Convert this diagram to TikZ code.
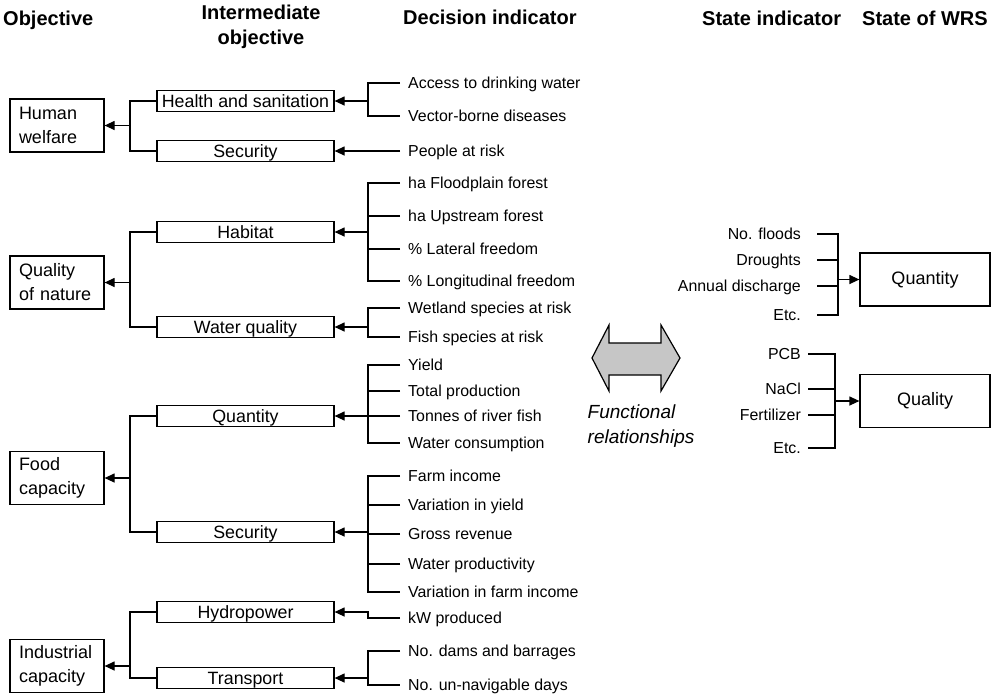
\documentclass[tikz,border=0pt]{standalone}
\usepackage{fontspec}
\setmainfont{Liberation Sans}
\usetikzlibrary{arrows.meta}

\begin{document}
\begin{tikzpicture}[x=1pt,y=-1pt]
      \tikzstyle{objbox} = [draw=black, line width=1.2pt, inner xsep=9pt, text width=76pt, minimum height=53pt, align=left, font=\fontsize{18}{24}\selectfont]
      \tikzstyle{midbox} = [draw=black, line width=1.2pt, inner sep=0pt, minimum width=177pt, minimum height=21pt, text height=14pt, text depth=2pt, font=\fontsize{17.8}{20}\selectfont]
      \tikzstyle{stbox} = [draw=black, line width=1.2pt, minimum width=130pt, minimum height=53pt, font=\fontsize{18}{20}\selectfont]
      \tikzstyle{ind} = [inner sep=0pt, text height=11.5pt, text depth=0pt, font=\fontsize{15.9}{19}\selectfont]
      \tikzstyle{head} = [inner sep=0pt, font=\bfseries\fontsize{20}{25}\selectfont]
      \tikzstyle{arr} = [-{Triangle[length=10pt,width=9pt]}, line width=1.2pt]
      \tikzstyle{tree} = [line width=1.2pt]
      \useasboundingbox (0,0) rectangle (992,694);

      % column heads
      \node[head, anchor=base west] (hobj) at (3,25) {Objective};
      \node[head, align=center] (hint) at (261,27) {Intermediate\\objective};
      \node[head, anchor=base west] (hdec) at (403,24) {Decision indicator};
      \node[head, anchor=base west] (hsta) at (702,25) {State indicator};
      \node[head, anchor=base west] (hwrs) at (862,25) {State of WRS};

      % objectives
      \node[objbox] (hw) at (57,125.5) {Human\\welfare};
      \node[objbox] (qn) at (57,282.5) {Quality\\of nature};
      \node[objbox] (fc) at (57,478) {Food\\capacity};
      \node[objbox] (ic) at (57,666) {Industrial\\capacity};

      % intermediate objectives
      \node[midbox] (hs) at (245.5,101) {Health and sanitation};
      \node[midbox] (sec) at (245.5,151) {Security};
      \node[midbox] (hab) at (245.5,232) {Habitat};
      \node[midbox] (wq) at (245.5,327) {Water quality};
      \node[midbox] (qty) at (245.5,416) {Quantity};
      \node[midbox] (fsec) at (245.5,532) {Security};
      \node[midbox] (hyd) at (245.5,612) {Hydropower};
      \node[midbox] (trn) at (245.5,678) {Transport};

      \coordinate (ox) at (130,0);
      \coordinate (dx) at (368,0);

      \draw[tree] (hs.west) -- (hs.west -| ox) -- (sec.west -| ox) -- (sec.west);
      \draw[arr] (hw.east -| ox) -- (hw.east);
      \draw[tree] (hab.west) -- (hab.west -| ox) -- (wq.west -| ox) -- (wq.west);
      \draw[arr] (qn.east -| ox) -- (qn.east);
      \draw[tree] (qty.west) -- (qty.west -| ox) -- (fsec.west -| ox) -- (fsec.west);
      \draw[arr] (fc.east -| ox) -- (fc.east);
      \draw[tree] (hyd.west) -- (hyd.west -| ox) -- (trn.west -| ox) -- (trn.west);
      \draw[arr] (ic.east -| ox) -- (ic.east);

      % decision indicators
      \node[ind, anchor=west] (access) at (408,83) {Access to drinking water};
      \node[ind, anchor=west] (vector) at (408,116) {Vector-borne diseases};
      \node[ind, anchor=west] (people) at (408,151) {People at risk};
      \node[ind, anchor=west] (flood) at (408,183) {ha Floodplain forest};
      \node[ind, anchor=west] (upstream) at (408,216) {ha Upstream forest};
      \node[ind, anchor=west] (lateral) at (408,249) {\% Lateral freedom};
      \node[ind, anchor=west] (longit) at (408,281) {\% Longitudinal freedom};
      \node[ind, anchor=west] (wetland) at (408,308) {Wetland species at risk};
      \node[ind, anchor=west] (fish) at (408,337) {Fish species at risk};
      \node[ind, anchor=west] (yield) at (408,365) {Yield};
      \node[ind, anchor=west] (totprod) at (408,391) {Total production};
      \node[ind, anchor=west] (tonnes) at (408,416) {Tonnes of river fish};
      \node[ind, anchor=west] (wcons) at (408,443) {Water consumption};
      \node[ind, anchor=west] (farm) at (408,476) {Farm income};
      \node[ind, anchor=west] (varyield) at (408,505) {Variation in yield};
      \node[ind, anchor=west] (gross) at (408,534) {Gross revenue};
      \node[ind, anchor=west] (wprod) at (408,564) {Water productivity};
      \node[ind, anchor=west] (varfarm) at (408,592) {Variation in farm income};
      \node[ind, anchor=west] (kw) at (408,618) {kW produced};
      \node[ind, anchor=west] (dams) at (408,651) {No. dams and barrages};
      \node[ind, anchor=west] (unnav) at (408,685) {No. un-navigable days};

      \draw[tree] ([xshift=-8pt]access.west) -- (access.west -| dx) -- (vector.west -| dx) -- ([xshift=-8pt]vector.west);
      \draw[arr] (hs.east -| dx) -- (hs.east);
      \draw[arr] ([xshift=-8pt]people.west) -- (sec.east);

      \draw[tree] ([xshift=-8pt]flood.west) -- (flood.west -| dx) -- (longit.west -| dx) -- ([xshift=-8pt]longit.west);
      \draw[tree] ([xshift=-8pt]upstream.west) -- (upstream.west -| dx);
      \draw[tree] ([xshift=-8pt]lateral.west) -- (lateral.west -| dx);
      \draw[arr] (hab.east -| dx) -- (hab.east);

      \draw[tree] ([xshift=-8pt]wetland.west) -- (wetland.west -| dx) -- (fish.west -| dx) -- ([xshift=-8pt]fish.west);
      \draw[arr] (wq.east -| dx) -- (wq.east);

      \draw[tree] ([xshift=-8pt]yield.west) -- (yield.west -| dx) -- (wcons.west -| dx) -- ([xshift=-8pt]wcons.west);
      \draw[tree] ([xshift=-8pt]totprod.west) -- (totprod.west -| dx);
      \draw[tree] ([xshift=-8pt]tonnes.west) -- (tonnes.west -| dx);
      \draw[arr] (qty.east -| dx) -- (qty.east);

      \draw[tree] ([xshift=-8pt]farm.west) -- (farm.west -| dx) -- (varfarm.west -| dx) -- ([xshift=-8pt]varfarm.west);
      \draw[tree] ([xshift=-8pt]varyield.west) -- (varyield.west -| dx);
      \draw[tree] ([xshift=-8pt]gross.west) -- (gross.west -| dx);
      \draw[tree] ([xshift=-8pt]wprod.west) -- (wprod.west -| dx);
      \draw[arr] (fsec.east -| dx) -- (fsec.east);

      \draw[arr] ([xshift=-8pt]kw.west) -- (kw.west -| dx) -- (hyd.east -| dx) -- (hyd.east);

      \draw[tree] ([xshift=-8pt]dams.west) -- (dams.west -| dx) -- (unnav.west -| dx) -- ([xshift=-8pt]unnav.west);
      \draw[arr] (trn.east -| dx) -- (trn.east);

      % functional relationships
      \draw[line width=1.2pt, fill=gray!45] (592,358) -- (609,325) -- (609,343) -- (661,343) -- (661,325) -- (680,358)
        -- (661,391) -- (661,375) -- (609,375) -- (609,391) -- cycle;
      \node[inner sep=0pt, align=left, font=\itshape\fontsize{19}{25}\selectfont] (func) at (641,426.5) {Functional\\relationships};

      % state indicators
      \node[ind, anchor=east] (floods) at (801,234) {No. floods};
      \node[ind, anchor=east] (droughts) at (801,260) {Droughts};
      \node[ind, anchor=east] (annual) at (801,286) {Annual discharge};
      \node[ind, anchor=east] (etca) at (801,315) {Etc.};
      \node[ind, anchor=east] (pcb) at (801,354) {PCB};
      \node[ind, anchor=east] (nacl) at (801,389) {NaCl};
      \node[ind, anchor=east] (fert) at (801,415) {Fertilizer};
      \node[ind, anchor=east] (etcb) at (801,448) {Etc.};

      % state of WRS
      \node[stbox] (wqn) at (925,279.5) {Quantity};
      \node[stbox] (wql) at (925,401) {Quality};

      \coordinate (sa) at (838,0);
      \coordinate (sb) at (835,0);

      \draw[tree] ([xshift=16pt]floods.east) -- (floods.east -| sa) -- (etca.east -| sa) -- ([xshift=16pt]etca.east);
      \draw[tree] ([xshift=16pt]droughts.east) -- (droughts.east -| sa);
      \draw[tree] ([xshift=16pt]annual.east) -- (annual.east -| sa);
      \draw[arr] (wqn.west -| sa) -- (wqn.west);

      \draw[tree] ([xshift=7pt]pcb.east) -- (pcb.east -| sb) -- (etcb.east -| sb) -- ([xshift=7pt]etcb.east);
      \draw[tree] ([xshift=7pt]nacl.east) -- (nacl.east -| sb);
      \draw[tree] ([xshift=7pt]fert.east) -- (fert.east -| sb);
      \draw[arr] (wql.west -| sb) -- (wql.west);
\end{tikzpicture}
\end{document}
